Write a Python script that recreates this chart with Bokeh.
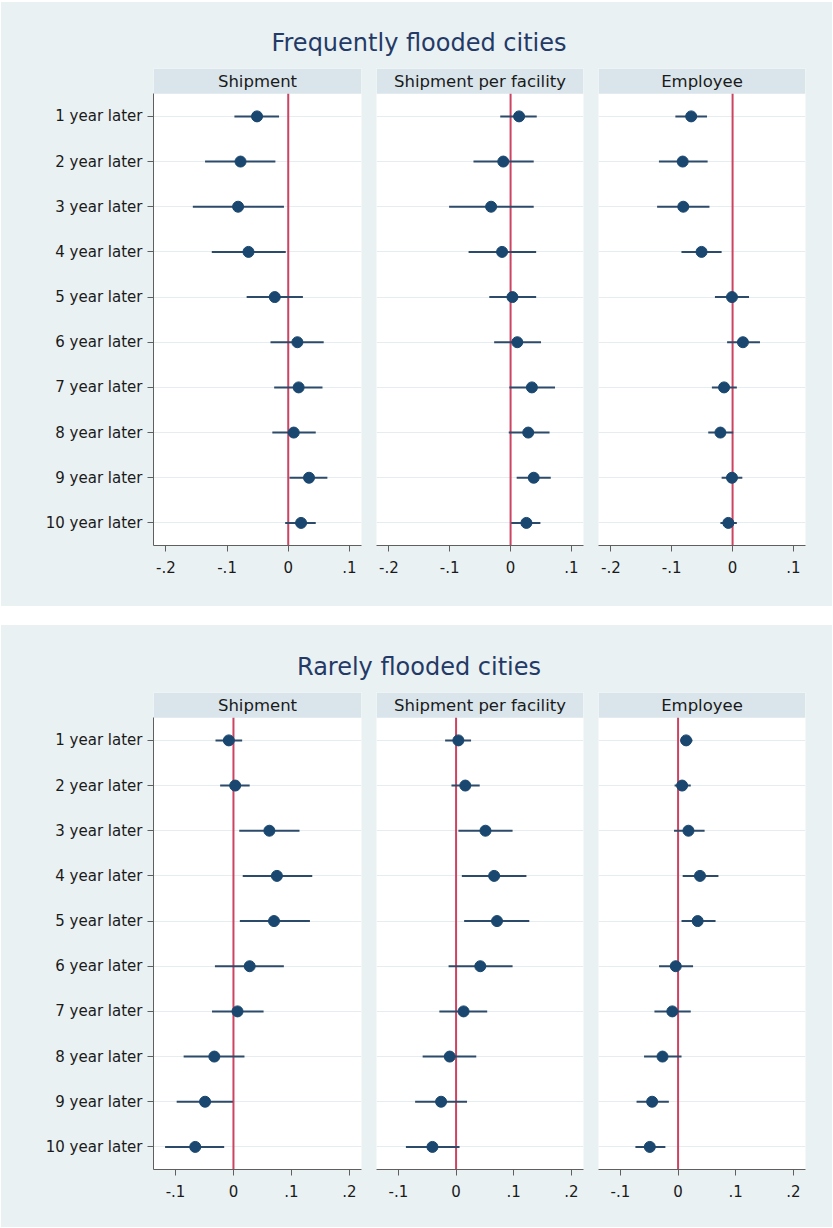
from bokeh.plotting import figure
from bokeh.models import Range1d, FixedTicker, Grid, Spacer, Column, Row
from bokeh.core.properties import value
from bokeh.embed import file_html
from bokeh.resources import INLINE

# ---------------- data ----------------
YEARS = [1, 2, 3, 4, 5, 6, 7, 8, 9, 10]
YEAR_LABELS = ["1 year later", "2 year later", "3 year later", "4 year later", "5 year later",
               "6 year later", "7 year later", "8 year later", "9 year later", "10 year later"]
PANEL_TITLES = ["Frequently flooded cities", "Rarely flooded cities"]
OUTCOMES = ["Shipment", "Shipment per facility", "Employee"]

FREQ_XTICKS = [-0.2, -0.1, 0.0, 0.1]
FREQ_XLABELS = ["-.2", "-.1", "0", ".1"]
RARE_XTICKS = [-0.1, 0.0, 0.1, 0.2]
RARE_XLABELS = ["-.1", "0", ".1", ".2"]
ZERO_LINE = 0.0

# Frequently flooded cities
FREQ_SHIP = [-0.051, -0.078, -0.082, -0.065, -0.022, 0.015, 0.017, 0.009, 0.034, 0.021]
FREQ_SHIP_LO = [-0.088, -0.136, -0.156, -0.125, -0.068, -0.029, -0.023, -0.026, 0.002, -0.005]
FREQ_SHIP_HI = [-0.015, -0.021, -0.007, -0.004, 0.024, 0.058, 0.056, 0.045, 0.064, 0.045]

FREQ_SPF = [0.014, -0.012, -0.032, -0.014, 0.003, 0.011, 0.035, 0.029, 0.038, 0.026]
FREQ_SPF_LO = [-0.017, -0.061, -0.101, -0.069, -0.035, -0.027, -0.002, -0.003, 0.010, 0.001]
FREQ_SPF_HI = [0.043, 0.038, 0.038, 0.042, 0.042, 0.050, 0.073, 0.064, 0.066, 0.049]

FREQ_EMP = [-0.068, -0.082, -0.081, -0.051, -0.001, 0.017, -0.014, -0.020, -0.001, -0.007]
FREQ_EMP_LO = [-0.094, -0.121, -0.124, -0.084, -0.029, -0.009, -0.034, -0.040, -0.018, -0.020]
FREQ_EMP_HI = [-0.042, -0.041, -0.038, -0.018, 0.027, 0.045, 0.007, 0.001, 0.016, 0.007]

# Rarely flooded cities
RARE_SHIP = [-0.008, 0.003, 0.062, 0.075, 0.070, 0.028, 0.007, -0.033, -0.049, -0.066]
RARE_SHIP_LO = [-0.031, -0.023, 0.010, 0.016, 0.011, -0.032, -0.037, -0.086, -0.098, -0.118]
RARE_SHIP_HI = [0.015, 0.028, 0.114, 0.136, 0.132, 0.087, 0.052, 0.019, -0.001, -0.016]

RARE_SPF = [0.004, 0.016, 0.051, 0.066, 0.071, 0.042, 0.013, -0.011, -0.026, -0.041]
RARE_SPF_LO = [-0.019, -0.008, 0.004, 0.010, 0.014, -0.013, -0.029, -0.058, -0.071, -0.087]
RARE_SPF_HI = [0.026, 0.041, 0.098, 0.122, 0.127, 0.098, 0.054, 0.035, 0.019, 0.006]

RARE_EMP = [0.014, 0.007, 0.018, 0.038, 0.034, -0.004, -0.010, -0.027, -0.045, -0.049]
RARE_EMP_LO = [0.004, -0.006, -0.007, 0.008, 0.006, -0.033, -0.041, -0.059, -0.072, -0.074]
RARE_EMP_HI = [0.025, 0.022, 0.046, 0.070, 0.065, 0.026, 0.022, 0.006, -0.016, -0.022]

# ---------------- style ----------------
FONT = "DejaVu Sans"
BG = "#eaf1f3"
HDR_FILL = "#d9e5ea"
NAVY = "#1a476f"
CI_COLOR = "#2c4a6a"
RED = "#cc4461"
GRID_COLOR = "#e6edf0"
AXIS_COLOR = "#5f5f5f"
TEXT_COLOR = "#1a1a1a"
TITLE_COLOR = "#243a66"

TOTAL_W = 831
FRAME_H = 477
HDR_UNITS = 0.56  # header band height in row units (above row 1)


def make_title(text, h, baseline_from_top):
    p = figure(width=TOTAL_W, height=h, x_range=Range1d(0, TOTAL_W), y_range=Range1d(0, h),
               x_axis_type=None, y_axis_type=None, min_border=0,
               output_backend="svg", toolbar_location=None,
               background_fill_color=BG, border_fill_color=BG, outline_line_color=None)
    p.text(x=[TOTAL_W / 2 + 2], y=[h - baseline_from_top], text=[text],
           text_font=value(FONT), text_font_size="24px", text_color=TITLE_COLOR,
           text_align="center", text_baseline="alphabetic")
    return p


def make_sub(outcome, coef, lo, hi, xr, xticks, xlabels, first, bl, br, bb, frame_w):
    h = FRAME_H + bb
    w = bl + frame_w + br
    p = figure(width=w, height=h, x_range=Range1d(*xr), y_range=Range1d(10.5, 0.5 - HDR_UNITS),
               y_axis_location="left" if first else None,
               output_backend="svg", toolbar_location=None,
               min_border_left=bl, min_border_right=br, min_border_top=0, min_border_bottom=bb,
               background_fill_color="white", border_fill_color=BG, outline_line_color=None)
    p.grid.visible = False
    p.add_layout(Grid(dimension=1, ticker=FixedTicker(ticks=YEARS),
                      grid_line_color=GRID_COLOR, grid_line_width=1))

    # strip header
    p.quad(left=[xr[0]], right=[xr[1]], bottom=[0.5], top=[0.5 - HDR_UNITS],
           fill_color=HDR_FILL, line_color=None)
    p.text(x=[(xr[0] + xr[1]) / 2], y=[0.5 - HDR_UNITS / 2], text=[outcome],
           text_font=value(FONT), text_font_size="16.5px", text_color=TEXT_COLOR,
           text_align="center", text_baseline="middle")

    # zero line
    p.segment(x0=[ZERO_LINE], y0=[0.5], x1=[ZERO_LINE], y1=[10.5], line_color=RED, line_width=2)

    # CIs and point estimates
    p.segment(x0=lo, y0=YEARS, x1=hi, y1=YEARS, line_color=CI_COLOR, line_width=2)
    p.scatter(x=coef, y=YEARS, size=11, fill_color=NAVY, line_color=NAVY)

    # x axis
    xa = p.xaxis[0]
    xa.ticker = FixedTicker(ticks=xticks)
    xa.major_label_overrides = dict(zip(xticks, xlabels))
    xa.axis_line_color = AXIS_COLOR
    xa.major_tick_line_color = AXIS_COLOR
    xa.major_tick_out = 6
    xa.major_tick_in = 0
    xa.minor_tick_line_color = None
    xa.major_label_standoff = 9
    xa.major_label_text_font = FONT
    xa.major_label_text_font_size = "15px"
    xa.major_label_text_color = TEXT_COLOR

    if first:
        ya = p.yaxis[0]
        ya.ticker = FixedTicker(ticks=YEARS)
        ya.major_label_overrides = dict(zip(YEARS, YEAR_LABELS))
        ya.bounds = (0.5, 10.5)
        ya.axis_line_color = AXIS_COLOR
        ya.major_tick_line_color = AXIS_COLOR
        ya.major_tick_out = 6
        ya.major_tick_in = 0
        ya.minor_tick_line_color = None
        ya.major_label_standoff = 5
        ya.major_label_text_font = FONT
        ya.major_label_text_font_size = "15px"
        ya.major_label_text_color = TEXT_COLOR
    return p


def make_panel(title, title_h, baseline, series, xr, xticks, xlabels, bb):
    t = make_title(title, title_h, baseline)
    specs = [(True, 152, 7, 208), (False, 8, 7, 207), (False, 8, 27, 207)]
    figs = []
    for (outcome, (c, l, u)), (first, bl, br, fw) in zip(zip(OUTCOMES, series), specs):
        figs.append(make_sub(outcome, c, l, u, xr, xticks, xlabels, first, bl, br, bb, fw))
    row = Row(children=figs, spacing=0, styles={"background-color": BG})
    return Column(children=[t, row], spacing=0, styles={"background-color": BG})


freq_series = [(FREQ_SHIP, FREQ_SHIP_LO, FREQ_SHIP_HI),
               (FREQ_SPF, FREQ_SPF_LO, FREQ_SPF_HI),
               (FREQ_EMP, FREQ_EMP_LO, FREQ_EMP_HI)]
rare_series = [(RARE_SHIP, RARE_SHIP_LO, RARE_SHIP_HI),
               (RARE_SPF, RARE_SPF_LO, RARE_SPF_HI),
               (RARE_EMP, RARE_EMP_LO, RARE_EMP_HI)]

top = make_panel(PANEL_TITLES[0], 66, 40, freq_series, (-0.2203, 0.1198),
                 FREQ_XTICKS, FREQ_XLABELS, 61)
bottom = make_panel(PANEL_TITLES[1], 67, 41, rare_series, (-0.138, 0.221),
                    RARE_XTICKS, RARE_XLABELS, 58)

panels = Column(children=[top, Spacer(width=TOTAL_W, height=19), bottom], spacing=0)
p = Column(children=[Spacer(width=TOTAL_W, height=2),
                     Row(children=[Spacer(width=1, height=10), panels], spacing=0)],
           spacing=0)

open("out.html", "w").write(file_html(p, INLINE))
